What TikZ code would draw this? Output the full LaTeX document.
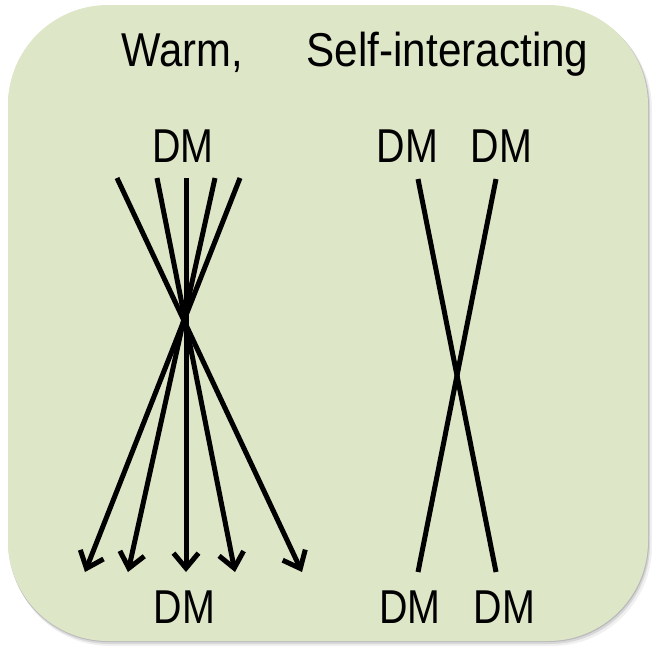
\documentclass[tikz,border=0pt]{standalone}
\usepackage{fontspec}
\setmainfont{Liberation Sans}
\usetikzlibrary{arrows.meta}
\definecolor{panel}{HTML}{DEE6C8}
\begin{document}
\begin{tikzpicture}[x=1pt,y=-1pt,
  lbl/.style={anchor=base, inner sep=0pt, font=\fontsize{47.5}{57}\selectfont},
  ray/.style={line width=5pt, -{Straight Barb[length=15pt,width=25pt]}},
  seg/.style={line width=5pt},
  shade/.style={fill=black, rounded corners=100pt}]
\useasboundingbox (0,0) rectangle (652,649);
% panel shadow and panel
\fill[shade, opacity=0.06] (10,9) rectangle (652,646);
\fill[shade, opacity=0.10] (9,7) rectangle (650,644);
\fill[shade, opacity=0.14] (8,6) rectangle (649,642);
\fill[panel, rounded corners=100pt] (8,5) rectangle (648,641);
% titles
\node[lbl] (title1) at (182,66) {\scalebox{0.88}[1]{Warm,}};
\node[lbl] (title2) at (447.5,66) {\scalebox{0.89}[1]{Self-interacting}};
% DM labels
\node[lbl] (wtop) at (183,162) {\scalebox{0.83}[1]{DM}};
\node[lbl] (wbot) at (184.5,623) {\scalebox{0.83}[1]{DM}};
\node[lbl] (stopl) at (407.5,162) {\scalebox{0.83}[1]{DM}};
\node[lbl] (stopr) at (501.5,162) {\scalebox{0.83}[1]{DM}};
\node[lbl] (sbotl) at (410,623) {\scalebox{0.83}[1]{DM}};
\node[lbl] (sbotr) at (504.5,623) {\scalebox{0.83}[1]{DM}};
% warm DM rays
\coordinate (w1a) at (117,178); \coordinate (w1b) at (302,572);
\coordinate (w2a) at (157,178); \coordinate (w2b) at (235,572);
\coordinate (w3a) at (186,178); \coordinate (w3b) at (186,572);
\coordinate (w4a) at (215,178); \coordinate (w4b) at (128,572);
\coordinate (w5a) at (240,178); \coordinate (w5b) at (85,572);
\draw[ray] (w1a) -- (w1b);
\draw[ray] (w2a) -- (w2b);
\draw[ray] (w3a) -- (w3b);
\draw[ray] (w4a) -- (w4b);
\draw[ray] (w5a) -- (w5b);
% self-interacting DM
\coordinate (s1a) at (418,179); \coordinate (s1b) at (496,572);
\coordinate (s2a) at (496,179); \coordinate (s2b) at (418,572);
\draw[seg] (s1a) -- (s1b);
\draw[seg] (s2a) -- (s2b);
\end{tikzpicture}
\end{document}
